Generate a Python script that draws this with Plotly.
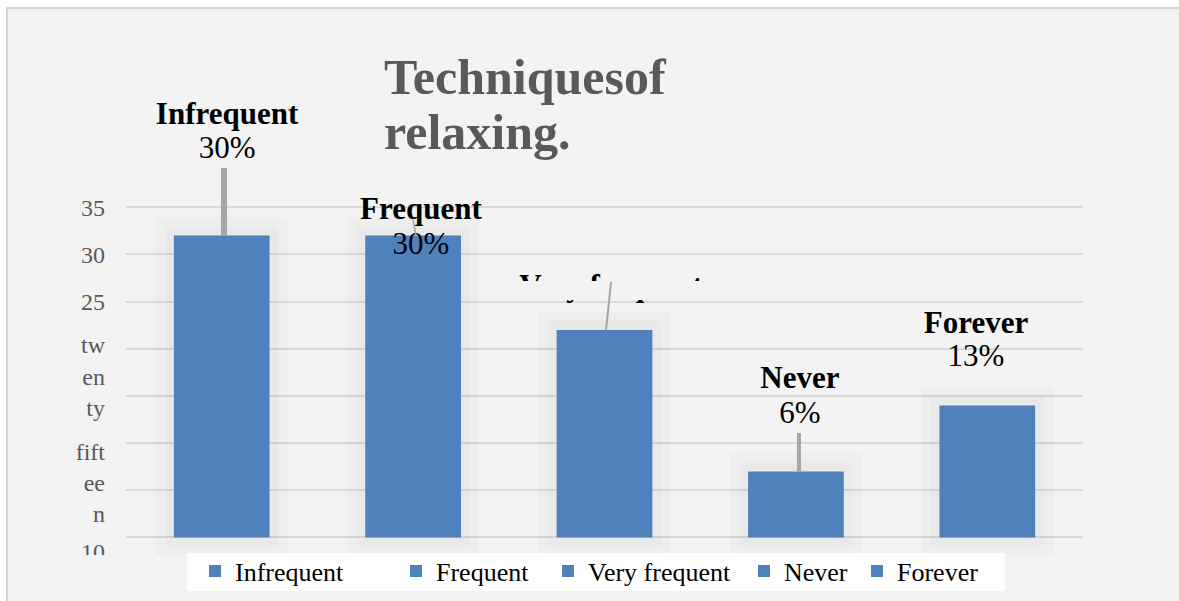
import plotly.graph_objects as go

# ---- data ----
CATEGORIES = ["Infrequent", "Frequent", "Very frequent", "Never", "Forever"]
VALUES = [32, 32, 22, 7, 14]
PCT_LABELS = ["30%", "30%", "", "6%", "13%"]
GRID_VALS = [0, 5, 10, 15, 20, 25, 30, 35]
Y_TICK_VALS = [35, 30, 25, 17.1, 5.8, -1.45]
Y_TICK_TEXT = ["35", "30", "25", "tw<br>en<br>ty", "fift<br>ee<br>n", "10"]
TITLE_LINES = ["Techniquesof", "relaxing."]

# ---- layout constants (label placement, not data) ----
LABEL_DX = [0.028, 0.041, 0.034, 0.021, -0.059]
NAME_Y = [44.68, 34.61, 26.40, 16.69, 22.53]
PCT_Y = [41.08, 30.90, None, 12.98, 19.03]
LEADER_START = [(0.012, 39.17), (1.0, 33.66), (2.034, 27.08), (3.016, 11.07), None]
LEADER_END_X = [0.012, 1.015, 2.008, 3.016, None]
LEADER_W = [6, 1.5, 2, 4, 0]

W, H = 1179, 601
ML, MR, MT, MB = 126, 96, 113, 40
PW, PH = W - ML - MR, H - MT - MB
BAR_BLUE = "#4f81bd"
BG = "#f3f3f3"
FONT = "Liberation Serif"


def px_x(px):
    return (px - ML) / PW


def px_y(py):
    return (H - MB - py) / PH


xs = list(range(len(CATEGORIES)))
fig = go.Figure()

# soft shadows behind bars
for lw, a in [(36, 0.018), (18, 0.02)]:
    fig.add_trace(go.Bar(
        x=xs, y=VALUES, width=0.5,
        marker=dict(color=f"rgba(0,0,0,{a})", line=dict(color=f"rgba(0,0,0,{a})", width=lw)),
        showlegend=False, hoverinfo="skip"))

# bars, one trace per category for the legend
for i, (c, v) in enumerate(zip(CATEGORIES, VALUES)):
    fig.add_trace(go.Bar(
        x=[xs[i]], y=[v], width=0.5, name=c,
        marker=dict(color=BAR_BLUE, line=dict(width=0)),
        legend="legend" if i == 0 else f"legend{i+1}"))

# data labels
fig.add_trace(go.Scatter(
    x=[xs[i] + LABEL_DX[i] for i in range(len(xs))], y=NAME_Y,
    mode="text", text=[f"<b>{c}</b>" for c in CATEGORIES],
    textfont=dict(family=FONT, size=31, color="#000000"),
    cliponaxis=False, showlegend=False, hoverinfo="skip"))
pi = [i for i in range(len(xs)) if PCT_LABELS[i]]
fig.add_trace(go.Scatter(
    x=[xs[i] + LABEL_DX[i] for i in pi], y=[PCT_Y[i] for i in pi],
    mode="text", text=[PCT_LABELS[i] for i in pi],
    textfont=dict(family=FONT, size=31, color="#000000"),
    cliponaxis=False, showlegend=False, hoverinfo="skip"))

# helper trace for second y axis (tick labels)
fig.add_trace(go.Scatter(x=[0], y=[0], yaxis="y2", mode="markers",
                         marker=dict(opacity=0), showlegend=False, hoverinfo="skip"))

shapes = []
# chart background with frame
shapes.append(dict(type="rect", xref="paper", yref="paper", layer="below",
                   x0=px_x(7), x1=px_x(1190), y0=px_y(612), y1=px_y(8),
                   fillcolor=BG, line=dict(color="#d4d4d4", width=2)))
# clipping covers
shapes.append(dict(type="rect", xref="paper", yref="paper", layer="above",
                   x0=px_x(9), x1=px_x(1178), y0=px_y(601), y1=px_y(555),
                   fillcolor=BG, line=dict(width=0)))
shapes.append(dict(type="rect", xref="paper", yref="paper", layer="above",
                   x0=px_x(505), x1=px_x(725), y0=px_y(300), y1=px_y(281),
                   fillcolor=BG, line=dict(width=0)))
# legend box
shapes.append(dict(type="rect", xref="paper", yref="paper", layer="above",
                   x0=px_x(187), x1=px_x(1005), y0=px_y(591), y1=px_y(553),
                   fillcolor="#ffffff", line=dict(width=0)))
# leader lines
for i in range(len(xs)):
    if LEADER_START[i] is None:
        continue
    sx, sy = LEADER_START[i]
    shapes.append(dict(type="line", xref="x", yref="y", layer="above",
                       x0=sx, y0=sy, x1=LEADER_END_X[i], y1=VALUES[i],
                       line=dict(color="#a6a6a6", width=LEADER_W[i])))

annotations = []
for line, py in zip(TITLE_LINES, [76.5, 131.5]):
    annotations.append(dict(text=f"<b>{line}</b>", xref="paper", yref="paper",
                            x=px_x(382), y=px_y(py), xanchor="left", yanchor="middle",
                            showarrow=False,
                            font=dict(family=FONT, size=50, color="#595959")))

legend_text_px = [237, 438, 590, 786, 899]
legends = {}
for i, tx in enumerate(legend_text_px):
    key = "legend" if i == 0 else f"legend{i+1}"
    legends[key] = dict(x=px_x(tx - 42), y=px_y(571), xanchor="left", yanchor="middle",
                        orientation="h", bgcolor="rgba(0,0,0,0)",
                        font=dict(family=FONT, size=26, color="#000000"))

fig.update_layout(
    width=W, height=H, autosize=False,
    margin=dict(l=ML, r=MR, t=MT, b=MB, pad=0, autoexpand=False),
    paper_bgcolor="#ffffff", plot_bgcolor="rgba(0,0,0,0)",
    barmode="overlay", showlegend=True,
    xaxis=dict(range=[-0.5, 4.5], showticklabels=False, showgrid=False,
               zeroline=False, showline=False, fixedrange=True),
    yaxis=dict(range=[-2.5, 45], tickvals=GRID_VALS, showticklabels=False,
               showgrid=True, gridcolor="#d9d9d9", gridwidth=2,
               zeroline=False, showline=False, fixedrange=True),
    yaxis2=dict(range=[-2.5, 45], overlaying="y", side="left",
                tickvals=Y_TICK_VALS, ticktext=Y_TICK_TEXT, ticks="",
                showgrid=False, zeroline=False, showline=False,
                ticklabelstandoff=20, fixedrange=True,
                tickfont=dict(family=FONT, size=24, color="#595959")),
    shapes=shapes, annotations=annotations,
    **legends,
)

fig.write_html("out.html", config={"displayModeBar": False},
               post_script="document.body.style.margin='0';")
